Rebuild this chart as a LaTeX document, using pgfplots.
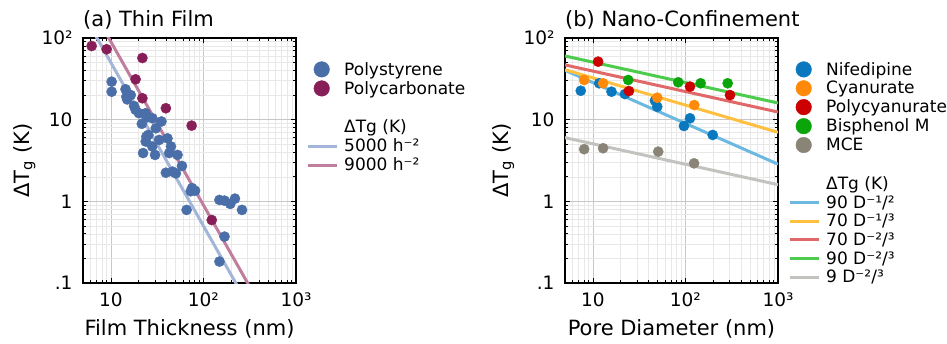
\documentclass[border=0pt]{standalone}
\usepackage{pgfplots}
\pgfplotsset{compat=1.18}
\usepackage{fontspec}
\setmainfont{DejaVu Sans}
\definecolor{cPS}{HTML}{4A6FA8}
\definecolor{cPC}{HTML}{871E58}
\definecolor{lPS}{HTML}{A3B5D8}
\definecolor{lPC}{HTML}{C07E9E}
\definecolor{cNi}{HTML}{0A78BE}
\definecolor{cCy}{HTML}{FF8A0A}
\definecolor{cPo}{HTML}{CC0000}
\definecolor{cBi}{HTML}{0AA50A}
\definecolor{cMC}{HTML}{898476}
\definecolor{lNi}{HTML}{6BB8E0}
\definecolor{lCy}{HTML}{FFC040}
\definecolor{lPo}{HTML}{E06868}
\definecolor{lBi}{HTML}{4CCB4C}
\definecolor{lMC}{HTML}{C2C2BE}
\begin{document}
\begin{tikzpicture}
\path[use as bounding box] (-83pt,-60pt) rectangle (864pt,283pt);
\begin{loglogaxis}[at={(0pt,0pt)},
    scale only axis, width=213pt, height=245pt,
    xmin=5, xmax=1000, ymin=0.1, ymax=100,
    xtick={10,100,1000}, xticklabels={10,10²,10³},
    ytick={0.1,1,10,100}, yticklabels={.1,1,10,10²},
    minor xtick={6,7,8,9,20,30,40,50,60,70,80,90,200,300,400,500,600,700,800,900},
    minor ytick={0.2,0.3,0.4,0.5,0.6,0.7,0.8,0.9,2,3,4,5,6,7,8,9,20,30,40,50,60,70,80,90},
    grid=both,
    major grid style={black!22, line width=0.7pt},
    minor grid style={black!9, line width=0.5pt},
    axis line style={black, line width=1.1pt},
    major tick length=5pt, minor tick length=3pt,
    tick style={black, line width=0.7pt},
    tick align=inside,
    ticklabel style={font=\fontsize{18.5}{20}\selectfont},
    yticklabel style={xshift=-7pt},
    xticklabel style={yshift=-6pt},
    label style={font=\fontsize{21}{24}\selectfont},
    ylabel style={at={(axis description cs:-0.275,0.5)}, anchor=center},
    xlabel style={at={(axis description cs:0.5,-0.216)}, anchor=base},
    title style={at={(axis description cs:0,1)}, anchor=base west, yshift=5pt, inner sep=0pt, font=\fontsize{21}{24}\selectfont},
    legend style={at={(1,1)}, anchor=north west, xshift=10pt, yshift=-22pt, draw=none, fill=none,
      font=\fontsize{17}{19.5}\selectfont, inner sep=0pt, row sep=0.6pt, column sep=4pt},
    legend cell align=left,
  title={(a) Thin Film},
  xlabel={Film Thickness (nm)},
  ylabel={ΔT\textsubscript{g} (K)}]
\addplot[only marks, mark=*, mark size=5.1pt, color=cPS, mark options={solid, fill=cPS, draw=cPS}, legend image code/.code={\fill[cPS] (14pt,0pt) circle (7.8pt);}] coordinates {
(10.2,29.2) (10.2,22) (14.4,23.6) (14.7,19.1) (16.4,20) (15,17.7) (17.8,14.7)
(18.5,13.2) (20.1,12) (21.6,8.9) (23.8,12) (24.8,10.7) (28.1,10.4) (35.2,9.5)
(30.6,7.85) (25.4,6.5) (24.2,6.2) (23.8,5.4) (28,4.7) (22.3,3.9) (30,3.7)
(33.3,5.65) (40.9,5.9) (44.6,4.7) (42.7,3.9) (52.5,3.7) (39.3,2.24) (46.4,2.31)
(50.4,2.2) (58.6,2.71) (75.4,1.45) (81.3,1.35) (73,1.33) (65.8,0.785)
(149,1.04) (169,1.02) (195,0.93) (219,1.08) (261,0.785) (169,0.37) (149,0.183)
};
\addlegendentry{Polystyrene}
\addplot[only marks, mark=*, mark size=5.1pt, color=cPC, mark options={solid, fill=cPC, draw=cPC}, legend image code/.code={\fill[cPC] (14pt,0pt) circle (7.8pt);}] coordinates {
(6.2,79.8) (9.0,72.8) (21.9,56.9) (18.5,31.2) (21.9,18.3) (39.3,13.8) (74.6,8.45) (123,0.59)
};
\addlegendentry{Polycarbonate}
\addlegendimage{empty legend}\addlegendentry{\strut}
\addlegendimage{empty legend}\addlegendentry{ΔTg (K)}
\addplot[no marks, line width=3pt, color=lPS, legend image code/.code={\draw[lPS, line width=3pt] (0pt,0pt) -- (29pt,0pt);}] coordinates {(5,200) (1000,0.005)};
\addlegendentry{5000 h⁻²}
\addplot[no marks, line width=3pt, color=lPC, legend image code/.code={\draw[lPC, line width=3pt] (0pt,0pt) -- (29pt,0pt);}] coordinates {(5,360) (1000,0.009)};
\addlegendentry{9000 h⁻²}
\end{loglogaxis}
\begin{loglogaxis}[at={(482pt,0pt)},
    scale only axis, width=213pt, height=245pt,
    xmin=5, xmax=1000, ymin=0.1, ymax=100,
    xtick={10,100,1000}, xticklabels={10,10²,10³},
    ytick={0.1,1,10,100}, yticklabels={.1,1,10,10²},
    minor xtick={6,7,8,9,20,30,40,50,60,70,80,90,200,300,400,500,600,700,800,900},
    minor ytick={0.2,0.3,0.4,0.5,0.6,0.7,0.8,0.9,2,3,4,5,6,7,8,9,20,30,40,50,60,70,80,90},
    grid=both,
    major grid style={black!22, line width=0.7pt},
    minor grid style={black!9, line width=0.5pt},
    axis line style={black, line width=1.1pt},
    major tick length=5pt, minor tick length=3pt,
    tick style={black, line width=0.7pt},
    tick align=inside,
    ticklabel style={font=\fontsize{18.5}{20}\selectfont},
    yticklabel style={xshift=-7pt},
    xticklabel style={yshift=-6pt},
    label style={font=\fontsize{21}{24}\selectfont},
    ylabel style={at={(axis description cs:-0.29,0.5)}, anchor=center},
    xlabel style={at={(axis description cs:0.5,-0.216)}, anchor=base},
    title style={at={(axis description cs:0,1)}, anchor=base west, yshift=5pt, inner sep=0pt, font=\fontsize{21}{24}\selectfont},
    legend style={at={(1,1)}, anchor=north west, xshift=10pt, yshift=-22pt, draw=none, fill=none,
      font=\fontsize{17}{19.5}\selectfont, inner sep=0pt, row sep=0.6pt, column sep=4pt},
    legend cell align=left,
  title={(b) Nano-Confinement},
  xlabel={Pore Diameter (nm)},
  ylabel={ΔT\textsubscript{g} (K)}]
\addplot[only marks, mark=*, mark size=5.1pt, color=cNi, mark options={solid, fill=cNi, draw=cNi}, legend image code/.code={\fill[cNi] (14pt,0pt) circle (7.8pt);}] coordinates {
(7.4,22.6) (11.7,27.9) (15.9,22) (22.2,20.6) (46.8,17.1) (49.6,14.4) (96.4,8.37) (112,10.4) (197,6.5)
};
\addlegendentry{Nifedipine}
\addplot[only marks, mark=*, mark size=5.1pt, color=cCy, mark options={solid, fill=cCy, draw=cCy}, legend image code/.code={\fill[cCy] (14pt,0pt) circle (7.8pt);}] coordinates {
(8.05,30.6) (12.9,27.9) (49.6,18.6) (124.6,15.1)
};
\addlegendentry{Cyanurate}
\addplot[only marks, mark=*, mark size=5.1pt, color=cPo, mark options={solid, fill=cPo, draw=cPo}, legend image code/.code={\fill[cPo] (14pt,0pt) circle (7.8pt);}] coordinates {
(11.4,51.3) (24.5,22.4) (112,25.4) (303,20)
};
\addlegendentry{Polycyanurate}
\addplot[only marks, mark=*, mark size=5.1pt, color=cBi, mark options={solid, fill=cBi, draw=cBi}, legend image code/.code={\fill[cBi] (14pt,0pt) circle (7.8pt);}] coordinates {
(24.1,30.6) (83.6,28.7) (146,27.9) (286,27.9)
};
\addlegendentry{Bisphenol M}
\addplot[only marks, mark=*, mark size=5.1pt, color=cMC, mark options={solid, fill=cMC, draw=cMC}, legend image code/.code={\fill[cMC] (14pt,0pt) circle (7.8pt);}] coordinates {
(8.05,4.35) (12.9,4.47) (50.8,4.06) (124,2.92)
};
\addlegendentry{MCE}
\addlegendimage{empty legend}\addlegendentry{\strut}
\addlegendimage{empty legend}\addlegendentry{ΔTg (K)}
\addplot[no marks, line width=3pt, color=lNi, legend image code/.code={\draw[lNi, line width=3pt] (0pt,0pt) -- (29pt,0pt);}] coordinates {(5,40.2) (1000,2.85)};
\addlegendentry{90 D⁻¹/²}
\addplot[no marks, line width=3pt, color=lCy, legend image code/.code={\draw[lCy, line width=3pt] (0pt,0pt) -- (29pt,0pt);}] coordinates {(5,40.9) (1000,7.0)};
\addlegendentry{70 D⁻¹/³}
\addplot[no marks, line width=3pt, color=lPo, legend image code/.code={\draw[lPo, line width=3pt] (0pt,0pt) -- (29pt,0pt);}] coordinates {(5,46.8) (1000,12.4)};
\addlegendentry{70 D⁻²/³}
\addplot[no marks, line width=3pt, color=lBi, legend image code/.code={\draw[lBi, line width=3pt] (0pt,0pt) -- (29pt,0pt);}] coordinates {(5,60.2) (1000,16.0)};
\addlegendentry{90 D⁻²/³}
\addplot[no marks, line width=3pt, color=lMC, legend image code/.code={\draw[lMC, line width=3pt] (0pt,0pt) -- (29pt,0pt);}] coordinates {(5,6.02) (1000,1.6)};
\addlegendentry{9 D⁻²/³}
\end{loglogaxis}
\end{tikzpicture}
\end{document}
